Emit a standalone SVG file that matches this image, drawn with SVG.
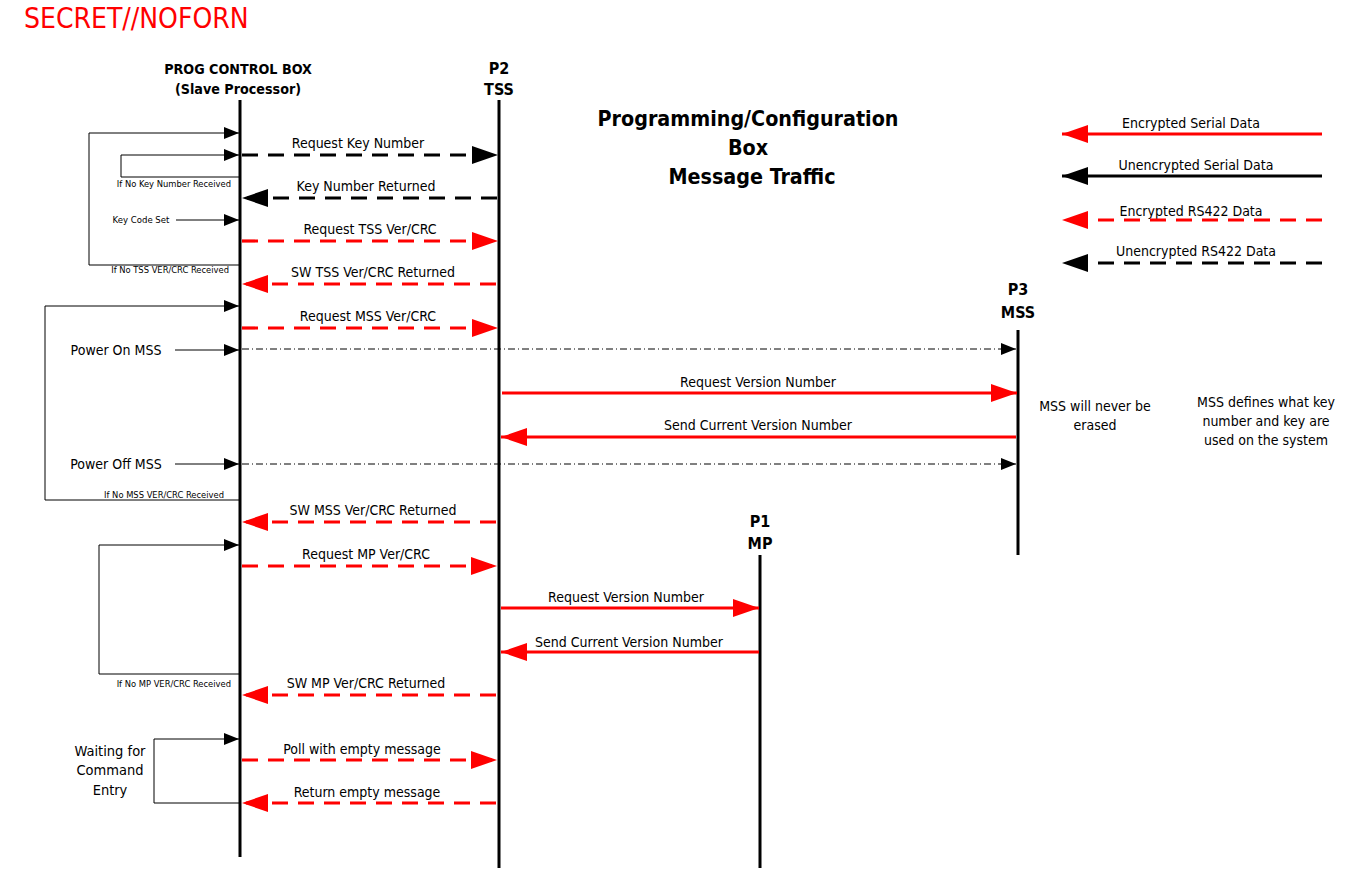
<svg xmlns="http://www.w3.org/2000/svg" width="1353" height="873" viewBox="0 0 1353 873">
<style>
text{font-family:"DejaVu Sans Condensed","DejaVu Sans",sans-serif;fill:#000}
.lbl{font-size:14px;text-anchor:middle}
.sm{font-size:9.3px;text-anchor:end}
.hd{font-size:14.2px;font-weight:bold;text-anchor:middle}
.hd2{font-size:16px;font-weight:bold;text-anchor:middle}
.ttl{font-size:21.3px;font-weight:bold;text-anchor:middle}
.life{stroke:#000;stroke-width:3;fill:none}
.bd{stroke:#000;stroke-width:3;stroke-dasharray:16 10;fill:none;marker-end:url(#ab)}
.rd{stroke:#f00;stroke-width:3.2;stroke-dasharray:16 10;fill:none;marker-end:url(#ar)}
.rs{stroke:#f00;stroke-width:3;fill:none;marker-end:url(#ar)}
.bs{stroke:#000;stroke-width:3;fill:none;marker-end:url(#ab)}
.dd{stroke:#000;stroke-width:1;stroke-dasharray:7 3 1 3;fill:none;marker-end:url(#as)}
.loop{stroke:#000;stroke-width:1;fill:none;marker-end:url(#as)}
</style>
<defs>
<marker id="ab" markerUnits="userSpaceOnUse" markerWidth="27" markerHeight="19" refX="26" refY="9" orient="auto"><path d="M0,0 L26,9 L0,18 z" fill="#000"/></marker>
<marker id="ar" markerUnits="userSpaceOnUse" markerWidth="27" markerHeight="19" refX="26" refY="9" orient="auto"><path d="M0,0 L26,9 L0,18 z" fill="#f00"/></marker>
<marker id="as" markerUnits="userSpaceOnUse" markerWidth="16" markerHeight="12" refX="15" refY="6" orient="auto"><path d="M0,0 L15,6 L0,12 z" fill="#000"/></marker>
</defs>

<text x="24" y="28" style="font-size:28px;fill:#f00">SECRET//NOFORN</text>

<g id="title">
<text class="ttl" x="748" y="126">Programming/Configuration</text>
<text class="ttl" x="748" y="155">Box</text>
<text class="ttl" x="752" y="184">Message Traffic</text>
</g>

<g id="pcb">
<text class="hd" x="238" y="74">PROG CONTROL BOX</text>
<text class="hd" x="238" y="94">(Slave Processor)</text>
<line class="life" x1="240" y1="100" x2="240" y2="857"/>
</g>
<g id="tss">
<text class="hd2" x="499" y="74">P2</text>
<text class="hd2" x="499" y="95">TSS</text>
<line class="life" x1="499" y1="100" x2="499" y2="868"/>
</g>
<g id="mss">
<text class="hd2" x="1018" y="295">P3</text>
<text class="hd2" x="1018" y="318">MSS</text>
<line class="life" x1="1018" y1="330" x2="1018" y2="555"/>
</g>
<g id="mp">
<text class="hd2" x="760" y="527">P1</text>
<text class="hd2" x="760" y="549">MP</text>
<line class="life" x1="760" y1="555" x2="760" y2="868"/>
</g>

<g id="legend">
<text class="lbl" x="1191" y="128">Encrypted Serial Data</text>
<path class="rs" d="M1322,134 H1062"/>
<text class="lbl" x="1196" y="170">Unencrypted Serial Data</text>
<path class="bs" d="M1322,176 H1062"/>
<text class="lbl" x="1191" y="216">Encrypted RS422 Data</text>
<path class="rd" d="M1322,220 H1062"/>
<text class="lbl" x="1196" y="256">Unencrypted RS422 Data</text>
<path class="bd" d="M1322,263 H1062"/>
</g>

<g id="notes">
<text class="lbl" x="1095" y="411">MSS will never be</text>
<text class="lbl" x="1095" y="430">erased</text>
<text class="lbl" x="1266" y="407">MSS defines what key</text>
<text class="lbl" x="1266" y="426">number and key are</text>
<text class="lbl" x="1266" y="445">used on the system</text>
<text class="lbl" x="110" y="756" style="font-size:14.5px">Waiting for</text>
<text class="lbl" x="110" y="775" style="font-size:14.5px">Command</text>
<text class="lbl" x="110" y="795" style="font-size:14.5px">Entry</text>
<text class="lbl" x="116" y="355">Power On MSS</text>
<text class="lbl" x="116" y="469">Power Off MSS</text>
<text x="141" y="223" style="font-size:9.5px;text-anchor:middle">Key Code Set</text>
<text class="sm" x="231" y="187">If No Key Number Received</text>
<text class="sm" x="229" y="273">If No TSS VER/CRC Received</text>
<text class="sm" x="224" y="498">If No MSS VER/CRC Received</text>
<text class="sm" x="231" y="687">If No MP VER/CRC Received</text>
</g>

<g id="connectors">
<path class="loop" d="M240,265 H89 V133 H239"/>
<path class="loop" d="M240,177 H121 V155 H239"/>
<path class="loop" d="M176,220 H239"/>
<path class="loop" d="M240,500 H45 V306 H239"/>
<path class="loop" d="M175,350 H239"/>
<path class="loop" d="M175,464 H239"/>
<path class="loop" d="M240,674 H99 V545 H239"/>
<path class="loop" d="M240,803 H154 V739 H239"/>

<path class="bd" d="M242,155 H498"/>
<path class="bd" d="M497,198 H242"/>
<path class="rd" d="M242,241 H498"/>
<path class="rd" d="M496,284 H242"/>
<path class="rd" d="M242,328 H498"/>
<path class="dd" d="M242,349 H1016"/>
<path class="rs" d="M502,393 H1017"/>
<path class="rs" d="M1016,437 H501"/>
<path class="dd" d="M242,464 H1016"/>
<path class="rd" d="M496,522 H242"/>
<path class="rd" d="M242,566 H497"/>
<path class="rs" d="M501,608 H759"/>
<path class="rs" d="M759,652 H501"/>
<path class="rd" d="M496,695 H242"/>
<path class="rd" d="M242,760 H497"/>
<path class="rd" d="M496,803 H242"/>

<text class="lbl" x="358" y="148">Request Key Number</text>
<text class="lbl" x="366" y="191">Key Number Returned</text>
<text class="lbl" x="370" y="234">Request TSS Ver/CRC</text>
<text class="lbl" x="373" y="277">SW TSS Ver/CRC Returned</text>
<text class="lbl" x="368" y="321">Request MSS Ver/CRC</text>
<text class="lbl" x="758" y="387">Request Version Number</text>
<text class="lbl" x="758" y="430">Send Current Version Number</text>
<text class="lbl" x="373" y="515">SW MSS Ver/CRC Returned</text>
<text class="lbl" x="366" y="559">Request MP Ver/CRC</text>
<text class="lbl" x="626" y="602">Request Version Number</text>
<text class="lbl" x="629" y="647">Send Current Version Number</text>
<text class="lbl" x="366" y="688">SW MP Ver/CRC Returned</text>
<text class="lbl" x="362" y="754">Poll with empty message</text>
<text class="lbl" x="367" y="797">Return empty message</text>
</g>
</svg>
